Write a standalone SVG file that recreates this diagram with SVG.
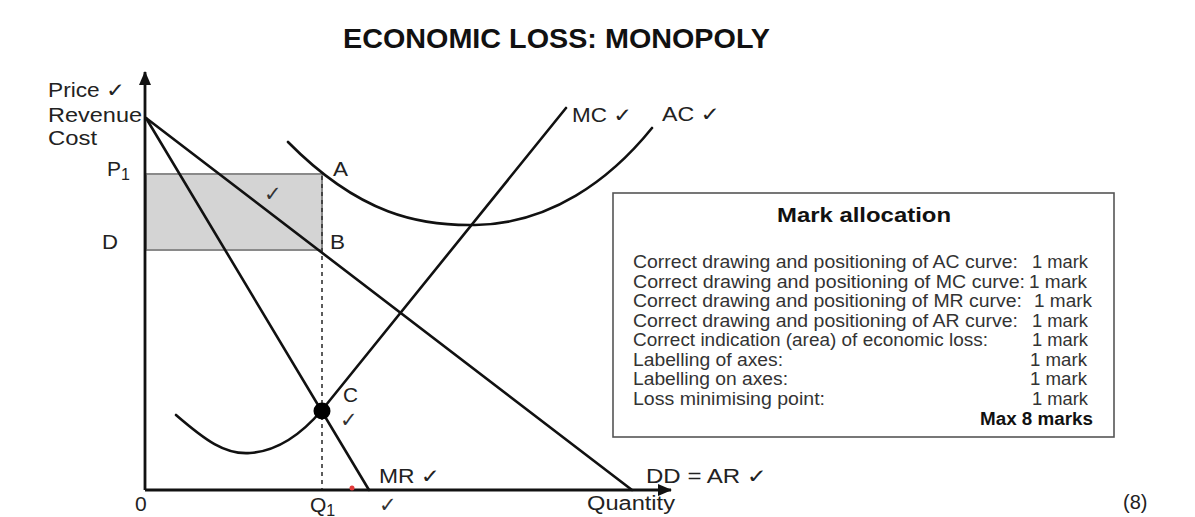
<svg xmlns="http://www.w3.org/2000/svg" width="1195" height="517" viewBox="0 0 1195 517">
<style>
.t{font-family:"Liberation Sans","DejaVu Sans",sans-serif;fill:#222;font-size:20px}
.s{font-family:"Liberation Sans","DejaVu Sans",sans-serif;fill:#222;font-size:21px}
.b{font-family:"Liberation Sans","DejaVu Sans",sans-serif;fill:#111;font-weight:bold}
.m{font-family:"Liberation Sans","DejaVu Sans",sans-serif;fill:#333;font-size:17.5px}
.ck{font-family:"DejaVu Sans",sans-serif;fill:#333;font-size:21px}
.ln{fill:none;stroke:#111;stroke-width:2.6;stroke-linecap:round}
</style>
<defs>
<marker id="ah" markerWidth="14" markerHeight="12" refX="13" refY="6" orient="auto" markerUnits="userSpaceOnUse">
<path d="M0,0 L14,6 L0,12 Z" fill="#111"/>
</marker>
</defs>
<rect width="1195" height="517" fill="#fff"/>
<text class="b" x="343" y="48" font-size="28" textLength="427" lengthAdjust="spacingAndGlyphs">ECONOMIC LOSS: MONOPOLY</text>

<g id="loss-area">
<rect x="146" y="174" width="176" height="76" fill="#d4d4d4" stroke="#8a8a8a" stroke-width="2"/>
<text class="ck" x="264" y="201" fill="#555">✓</text>
</g>

<g id="axes">
<line x1="145" y1="490" x2="145" y2="72" stroke="#111" stroke-width="2.8" marker-end="url(#ah)"/>
<line x1="145" y1="490" x2="671" y2="490" stroke="#111" stroke-width="2.8" marker-end="url(#ah)"/>
</g>

<g id="connectors">
<line x1="322" y1="176" x2="322" y2="489" stroke="#333" stroke-width="1.6" stroke-dasharray="4,4"/>
<path id="AR" class="ln" d="M146,118 L632,490"/>
<path id="MR" class="ln" d="M146,118 L369,490"/>
<path id="AC" class="ln" d="M288,142 C360,215 420,226 475,225 C550,224 610,180 652,128"/>
<path id="MC" class="ln" d="M176,415 C205,440 225,455 250,453 C280,451 305,430 322,410 L566,108"/>
<circle cx="322" cy="411" r="8.5" fill="#000"/>
<circle cx="352" cy="488" r="2.5" fill="#e23a3a"/>
</g>

<g id="labels">
<text class="t" x="48" y="97" textLength="77" lengthAdjust="spacingAndGlyphs">Price ✓</text>
<text class="t" x="48" y="122" textLength="94" lengthAdjust="spacingAndGlyphs">Revenue</text>
<text class="t" x="48" y="145" textLength="49" lengthAdjust="spacingAndGlyphs">Cost</text>
<text class="s" x="107" y="176">P<tspan font-size="16" dy="4">1</tspan></text>
<text class="s" x="102" y="249" textLength="16" lengthAdjust="spacingAndGlyphs">D</text>
<text class="s" x="333" y="176" textLength="15" lengthAdjust="spacingAndGlyphs">A</text>
<text class="s" x="330" y="249" textLength="15" lengthAdjust="spacingAndGlyphs">B</text>
<text class="s" x="343" y="402" textLength="15" lengthAdjust="spacingAndGlyphs">C</text>
<text class="ck" x="340" y="427">✓</text>
<text class="t" x="379" y="483" textLength="61" lengthAdjust="spacingAndGlyphs">MR ✓</text>
<text class="s" x="135" y="511">0</text>
<text class="s" x="310" y="512">Q<tspan font-size="16" dy="4">1</tspan></text>
<text class="ck" x="379" y="512">✓</text>
<text class="t" x="587" y="510" textLength="88" lengthAdjust="spacingAndGlyphs">Quantity</text>
<text class="t" x="646" y="483" textLength="121" lengthAdjust="spacingAndGlyphs">DD = AR ✓</text>
<text class="t" x="572" y="122" textLength="60" lengthAdjust="spacingAndGlyphs">MC ✓</text>
<text class="t" x="662" y="121" textLength="58" lengthAdjust="spacingAndGlyphs">AC ✓</text>
<text class="t" x="1123" y="509" font-size="23">(8)</text>
</g>

<g id="mark-allocation">
<rect x="613" y="193" width="501" height="244" fill="#fff" stroke="#555" stroke-width="1.6"/>
<text class="b" x="777" y="222" font-size="19.5" textLength="174" lengthAdjust="spacingAndGlyphs">Mark allocation</text>
<text class="m" x="633" y="268" textLength="385" lengthAdjust="spacingAndGlyphs">Correct drawing and positioning of AC curve:</text>
<text class="m" x="1032" y="268" textLength="56" lengthAdjust="spacingAndGlyphs">1 mark</text>
<text class="m" x="633" y="287.5" textLength="392" lengthAdjust="spacingAndGlyphs">Correct drawing and positioning of MC curve:</text>
<text class="m" x="1029" y="287.5" textLength="58" lengthAdjust="spacingAndGlyphs">1 mark</text>
<text class="m" x="633" y="307" textLength="389" lengthAdjust="spacingAndGlyphs">Correct drawing and positioning of MR curve:</text>
<text class="m" x="1034" y="307" textLength="58" lengthAdjust="spacingAndGlyphs">1 mark</text>
<text class="m" x="633" y="326.5" textLength="385" lengthAdjust="spacingAndGlyphs">Correct drawing and positioning of AR curve:</text>
<text class="m" x="1032" y="326.5" textLength="56" lengthAdjust="spacingAndGlyphs">1 mark</text>
<text class="m" x="633" y="346" textLength="355" lengthAdjust="spacingAndGlyphs">Correct indication (area) of economic loss:</text>
<text class="m" x="1032" y="346" textLength="56" lengthAdjust="spacingAndGlyphs">1 mark</text>
<text class="m" x="633" y="365.5" textLength="150" lengthAdjust="spacingAndGlyphs">Labelling of axes:</text>
<text class="m" x="1030" y="365.5" textLength="57" lengthAdjust="spacingAndGlyphs">1 mark</text>
<text class="m" x="633" y="385" textLength="155" lengthAdjust="spacingAndGlyphs">Labelling on axes:</text>
<text class="m" x="1030" y="385" textLength="57" lengthAdjust="spacingAndGlyphs">1 mark</text>
<text class="m" x="633" y="404.5" textLength="192" lengthAdjust="spacingAndGlyphs">Loss minimising point:</text>
<text class="m" x="1032" y="404.5" textLength="56" lengthAdjust="spacingAndGlyphs">1 mark</text>
<text class="b" x="980" y="424.5" font-size="17.5" textLength="113" lengthAdjust="spacingAndGlyphs">Max 8 marks</text>
</g>
</svg>
